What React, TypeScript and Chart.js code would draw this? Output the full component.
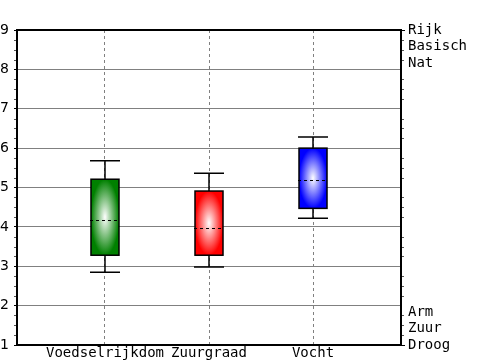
import React, { useEffect, useRef } from 'react';
import { Chart, registerables } from 'chart.js';

Chart.register(...registerables);

const categories = ['Voedselrijkdom', 'Zuurgraad', 'Vocht'];
const positions = [1, 2, 3];
const whiskerLow = [2.85, 2.98, 4.22];
const q1 = [3.28, 3.28, 4.47];
const median = [4.17, 3.97, 5.19];
const q3 = [5.21, 4.91, 6.0];
const whiskerHigh = [5.68, 5.36, 6.28];
const boxColors = ['#008000', '#ff0000', '#0000ff'];
const topLabels = ['Rijk', 'Basisch', 'Nat'];
const bottomLabels = ['Arm', 'Zuur', 'Droog'];
const yMin = 1;
const yMax = 9;

const MONO = '"DejaVu Sans Mono", monospace';
const SANS = '"DejaVu Sans", sans-serif';

const boxPlugin = {
  id: 'boxes',
  afterDatasetsDraw(chart: any) {
    const ctx = chart.ctx;
    const xs = chart.scales.x;
    const ys = chart.scales.y;
    const meta = chart.getDatasetMeta(0);
    meta.data.forEach((bar: any, i: number) => {
      const p = bar.getProps(['x', 'y', 'base', 'width'], true);
      const left = p.x - p.width / 2;
      const top = Math.min(p.y, p.base);
      const bottom = Math.max(p.y, p.base);
      const w = p.width;
      const h = bottom - top;
      // elliptical radial gradient fill
      ctx.save();
      ctx.beginPath();
      ctx.rect(left, top, w, h);
      ctx.clip();
      ctx.translate(p.x, (top + bottom) / 2);
      ctx.scale(1, h / w);
      const g = ctx.createRadialGradient(0, 0, 0, 0, 0, w / 2);
      g.addColorStop(0, '#ffffff');
      g.addColorStop(1, boxColors[i]);
      ctx.fillStyle = g;
      ctx.fillRect(-w, -w, 2 * w, 2 * w);
      ctx.restore();

      const cx = xs.getPixelForValue(positions[i]);
      const yHi = ys.getPixelForValue(whiskerHigh[i]);
      const yLo = ys.getPixelForValue(whiskerLow[i]);
      const yQ3 = ys.getPixelForValue(q3[i]);
      const yQ1 = ys.getPixelForValue(q1[i]);
      const yMed = ys.getPixelForValue(median[i]);
      const capHalf = 15;

      ctx.save();
      ctx.strokeStyle = '#000';
      ctx.lineWidth = 1.5;
      ctx.strokeRect(left, top, w, h);
      ctx.beginPath();
      ctx.moveTo(cx, yQ3);
      ctx.lineTo(cx, yHi);
      ctx.moveTo(cx - capHalf, yHi);
      ctx.lineTo(cx + capHalf, yHi);
      ctx.moveTo(cx, yQ1);
      ctx.lineTo(cx, yLo);
      ctx.moveTo(cx - capHalf, yLo);
      ctx.lineTo(cx + capHalf, yLo);
      ctx.stroke();
      ctx.lineWidth = 1;
      ctx.setLineDash([3, 3]);
      ctx.beginPath();
      ctx.moveTo(left - 1, Math.round(yMed) + 0.5);
      ctx.lineTo(left + w + 1, Math.round(yMed) + 0.5);
      ctx.stroke();
      ctx.restore();
    });
  },
  afterDraw(chart: any) {
    const ctx = chart.ctx;
    const ys = chart.scales.y;
    const { left, right, top } = chart.chartArea;
    ctx.save();
    // top frame line
    ctx.strokeStyle = '#000';
    ctx.lineWidth = 2;
    ctx.beginPath();
    ctx.moveTo(left - 1, top);
    ctx.lineTo(right + 1, top);
    ctx.stroke();
    // minor ticks
    ctx.fillStyle = '#555';
    for (let v = yMin; v <= yMax; v += 0.25) {
      if (Math.abs(v - Math.round(v)) < 1e-6) continue;
      const y = Math.round(ys.getPixelForValue(v));
      ctx.fillRect(left - 3, y, 2, 1);
      ctx.fillRect(right + 1, y, 2, 1);
    }
    // right side labels
    ctx.fillStyle = '#000';
    ctx.font = '14px ' + MONO;
    ctx.textAlign = 'left';
    ctx.textBaseline = 'middle';
    const lh = 16.5;
    const yTop = ys.getPixelForValue(yMax);
    const yBot = ys.getPixelForValue(yMin);
    topLabels.forEach((t, k) => ctx.fillText(t, right + 7, yTop + k * lh));
    bottomLabels.forEach((t, k) =>
      ctx.fillText(t, right + 7, yBot - (bottomLabels.length - 1 - k) * lh)
    );
    ctx.restore();
  },
};

export default function App() {
  const ref = useRef<HTMLCanvasElement | null>(null);
  useEffect(() => {
    if (!ref.current) return;
    const chart = new Chart(ref.current, {
      type: 'bar',
      data: {
        datasets: [
          {
            data: positions.map((x, i) => ({ x, y: [q1[i], q3[i]] })) as any,
            backgroundColor: 'rgba(0,0,0,0)',
            borderWidth: 0,
            barThickness: 28,
            yAxisID: 'y',
            xAxisID: 'x',
          },
        ],
      },
      options: {
        animation: false,
        responsive: false,
        events: [],
        layout: { padding: { top: 30, left: 0, right: 0, bottom: 0 } },
        plugins: { legend: { display: false }, tooltip: { enabled: false } },
        scales: {
          x: {
            type: 'linear',
            position: 'bottom',
            offset: false,
            min: 0.154,
            max: 3.846,
            afterBuildTicks: (s: any) => {
              s.ticks = positions.map((v) => ({ value: v }));
            },
            afterFit: (s: any) => {
              s.height = 15;
            },
            ticks: {
              autoSkip: false,
              maxRotation: 0,
              padding: 0,
              color: '#000',
              font: { family: MONO, size: 14 },
              callback: (v: any) => categories[positions.indexOf(Number(v))] ?? '',
            },
            grid: { offset: false, color: '#808080', drawTicks: false, lineWidth: 1 },
            border: { color: '#000', width: 2, dash: [3, 3] },
          },
          y: {
            type: 'linear',
            position: 'left',
            min: yMin,
            max: yMax,
            afterFit: (s: any) => {
              s.width = 17;
            },
            ticks: {
              stepSize: 1,
              padding: 5,
              color: '#000',
              font: { family: SANS, size: 14 },
            },
            grid: { color: '#808080', tickColor: '#000', tickLength: 3, lineWidth: 1 },
            border: { color: '#000', width: 2 },
          },
          y2: {
            type: 'linear',
            position: 'right',
            min: yMin,
            max: yMax,
            afterBuildTicks: (s: any) => {
              s.ticks = [{ value: yMin }, { value: yMax }];
            },
            afterFit: (s: any) => {
              s.width = 99;
            },
            ticks: { display: false },
            grid: { drawOnChartArea: false, tickColor: '#000', tickLength: 4 },
            border: { color: '#000', width: 2 },
          },
        },
      },
      plugins: [boxPlugin],
    });
    return () => chart.destroy();
  }, []);
  return (
    <div style={{ position: 'absolute', left: 0, top: 0, width: 500, height: 360, background: '#fff' }}>
      <canvas ref={ref} width={500} height={360} />
    </div>
  );
}
